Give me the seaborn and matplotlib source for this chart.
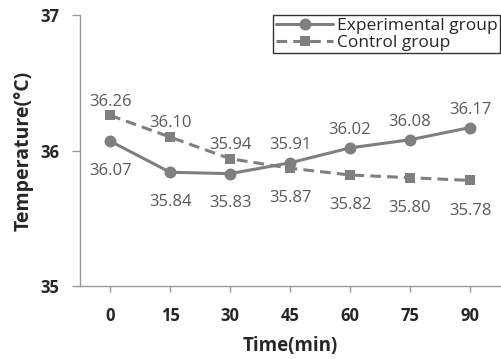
import pandas as pd
import seaborn as sns
import matplotlib.pyplot as plt

times = ["0", "15", "30", "45", "60", "75", "90"]
experimental = [36.07, 35.84, 35.83, 35.91, 36.02, 36.08, 36.17]
control = [36.26, 36.10, 35.94, 35.87, 35.82, 35.80, 35.78]
# label placement: +1 above the point, -1 below
exp_side = [-1, -1, -1, 1, 1, 1, 1]
ctl_side = [1, 1, 1, -1, -1, -1, -1]

sns.set_style("white")
plt.rcParams['font.family'] = ['Open Sans', 'DejaVu Sans']

df = pd.DataFrame({
    "time": times * 2,
    "temp": experimental + control,
    "group": ["Experimental group"] * 7 + ["Control group"] * 7,
})

grey = "#7f7f7f"
fig, ax = plt.subplots(figsize=(5.01, 3.59), dpi=100)
fig.subplots_adjust(left=0.16, right=0.998, bottom=0.203, top=0.958)

sns.lineplot(data=df, x="time", y="temp", style="group", markers=["o", "s"],
             dashes=[(None, None), (3.5, 2)], color=grey, linewidth=2.2,
             markersize=8.6, markeredgewidth=0, ax=ax, sort=False)

handles, labels = ax.get_legend_handles_labels()
for ln in list(ax.lines) + list(handles):
    if ln.get_marker() == "s":
        ln.set_markersize(7.2)

for i in range(len(times)):
    up = exp_side[i] > 0
    ax.annotate(f"{experimental[i]:.2f}", (i, experimental[i]),
                xytext=(0, 7 if up else -15.5), textcoords="offset points",
                ha="center", va="bottom" if up else "top",
                fontsize=12, color="#595959")
    up = ctl_side[i] > 0
    ax.annotate(f"{control[i]:.2f}", (i, control[i]),
                xytext=(0, 4 if up else -16), textcoords="offset points",
                ha="center", va="bottom" if up else "top",
                fontsize=12, color="#595959")

ax.set_xlim(-0.5, 6.5)
ax.set_ylim(35, 37)
ax.set_yticks([35, 36, 37])
ax.set_xlabel("Time(min)", fontsize=13.5, fontweight="bold", labelpad=8)
ax.set_ylabel("Temperature(°C)", fontsize=14, fontweight="bold", labelpad=5)
for lab in ax.get_xticklabels() + ax.get_yticklabels():
    lab.set_fontweight("bold")
    lab.set_fontsize(12)
ax.tick_params(axis="x", length=4, width=1, color="#999999", pad=11, direction="out", bottom=True)
ax.tick_params(axis="y", length=6, width=1, color="#999999", pad=9, direction="out", left=True)

sns.despine(ax=ax, top=True, right=True)
for s in ["left", "bottom"]:
    ax.spines[s].set_color("#999999")
    ax.spines[s].set_linewidth(1)

leg = ax.legend(handles, labels, loc="upper right", bbox_to_anchor=(1.0, 1.0),
                frameon=True, fancybox=False, edgecolor="black", fontsize=12.5,
                handlelength=3.3, handletextpad=0.2, borderpad=0.15,
                labelspacing=0.05, borderaxespad=0)
leg.get_frame().set_linewidth(1)

fig.savefig("out.png", dpi=100)
